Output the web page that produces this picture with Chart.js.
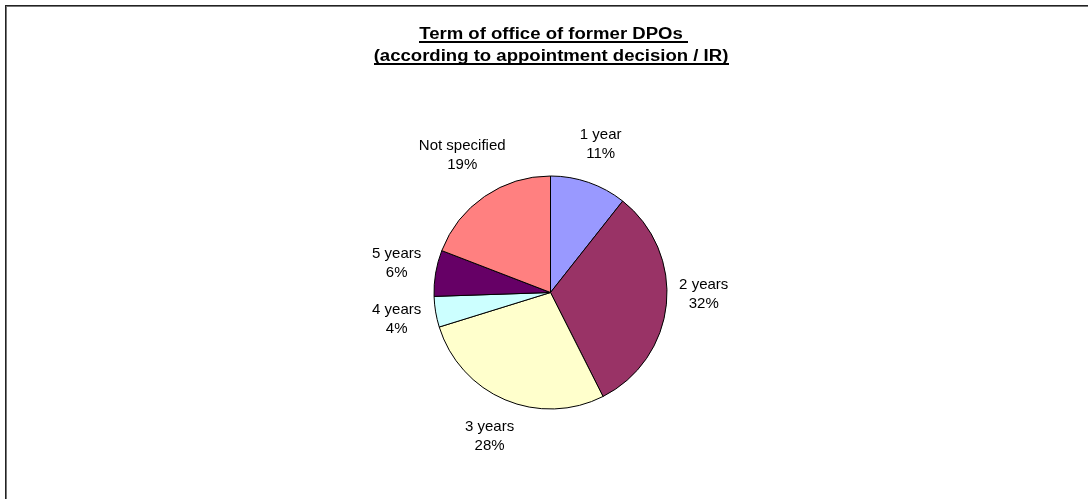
<!DOCTYPE html>
<html>
<head>
<meta charset="utf-8">
<script src="https://cdn.jsdelivr.net/npm/chart.js@4/dist/chart.umd.min.js"></script>
<style>
  html, body { margin: 0; padding: 0; background: #fff; }
  #wrap { width: 1088px; height: 499px; }
</style>
</head>
<body>
<div id="wrap"><canvas id="c" width="1088" height="499"></canvas></div>
<script>
// ---- data ----
const titleLines = ['Term of office of former DPOs ', '(according to appointment decision / IR)'];
const categories = ['1 year', '2 years', '3 years', '4 years', '5 years', 'Not specified'];
const counts = [5, 15, 13, 2, 3, 9];
const sliceColors = ['#9999FF', '#993366', '#FFFFCC', '#CCFFFF', '#660066', '#FF8080'];

// ---- label placement style (nudges from radial position) ----
const labelNudge = [[-1, -2], [-2, -14.5], [0, -0.6], [0, 0], [0, -4], [0, -9.6]];
const labelGap = 39.5;

const total = counts.reduce((a, b) => a + b, 0);
const pctLabels = counts.map(v => Math.round(v / total * 100) + '%');

const framePlugin = {
  id: 'frame',
  beforeDraw(chart) {
    const ctx = chart.ctx;
    ctx.save();
    ctx.fillStyle = '#ffffff';
    ctx.fillRect(0, 0, chart.width, chart.height);
    ctx.fillStyle = '#222222';
    ctx.fillRect(5, 5, chart.width, 1);
    ctx.fillRect(5, 5, 1, chart.height);
    ctx.fillStyle = '#777777';
    ctx.fillRect(6, 6, chart.width, 1);
    ctx.fillRect(6, 6, 1, chart.height);
    ctx.restore();
  }
};

const titlePlugin = {
  id: 'ulTitle',
  afterDraw(chart) {
    const ctx = chart.ctx;
    ctx.save();
    ctx.font = "bold 16px 'Liberation Sans', Arial, sans-serif";
    ctx.fillStyle = '#000';
    ctx.textBaseline = 'alphabetic';
    ctx.textAlign = 'left';
    const sx = 1.16;
    const baselines = [39, 61];
    const cx = 551;
    titleLines.forEach((t, i) => {
      const trimmed = t.replace(/\s+$/, '');
      const wTrim = ctx.measureText(trimmed).width * sx;
      const wFull = ctx.measureText(t).width * sx;
      const left = cx - wTrim / 2;
      ctx.save();
      ctx.translate(left, baselines[i]);
      ctx.scale(sx, 1);
      ctx.fillText(t, 0, 0);
      ctx.restore();
      ctx.fillRect(Math.round(left), baselines[i] + 2, Math.round(wFull), 2);
    });
    ctx.restore();
  }
};

const labelPlugin = {
  id: 'sliceLabels',
  afterDatasetsDraw(chart) {
    const ctx = chart.ctx;
    const meta = chart.getDatasetMeta(0);
    ctx.save();
    ctx.font = "15px 'Liberation Sans', Arial, sans-serif";
    ctx.fillStyle = '#000';
    ctx.textAlign = 'center';
    ctx.textBaseline = 'alphabetic';
    meta.data.forEach((arc, i) => {
      const p = arc.getProps(['x', 'y', 'startAngle', 'endAngle', 'outerRadius'], true);
      const mid = (p.startAngle + p.endAngle) / 2;
      const d = p.outerRadius + labelGap;
      const lx = p.x + Math.cos(mid) * d + labelNudge[i][0];
      const ly = p.y + Math.sin(mid) * d + labelNudge[i][1];
      ctx.fillText(categories[i], lx, ly - 4.2);
      ctx.fillText(pctLabels[i], lx, ly + 14.8);
    });
    ctx.restore();
  }
};

new Chart(document.getElementById('c'), {
  type: 'pie',
  data: {
    labels: categories,
    datasets: [{
      data: counts,
      backgroundColor: sliceColors,
      borderColor: '#000000',
      borderWidth: 1
    }]
  },
  options: {
    responsive: false,
    animation: false,
    radius: 116.5,
    layout: { padding: { left: 434, right: 421, top: 176, bottom: 90 } },
    plugins: {
      legend: { display: false },
      tooltip: { enabled: false },
      title: { display: false }
    }
  },
  plugins: [framePlugin, labelPlugin, titlePlugin]
});
</script>
</body>
</html>
